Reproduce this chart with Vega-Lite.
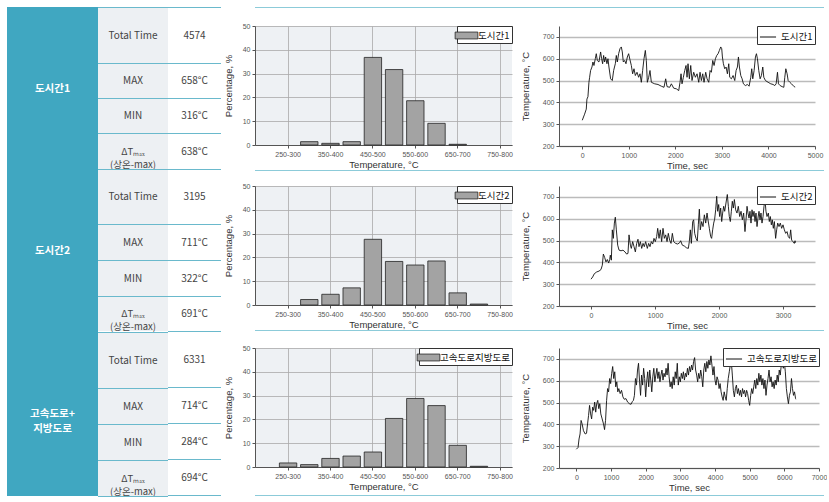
{
"$schema": "https://vega.github.io/schema/vega-lite/v6.json",
"padding": {"left": 7, "top": 7, "right": 0, "bottom": 0},
"background": "white",
"config": {
 "view": {"stroke": null},
 "font": "Liberation Sans",
 "axis": {"labelFont": "Liberation Sans", "labelFontSize": 7, "labelColor": "#555", "titleFont": "Liberation Sans", "titleFontSize": 9.5, "titleFontWeight": "normal", "titleColor": "#333", "domainColor": "#555", "tickColor": "#555", "tickSize": 3, "labelPadding": 2, "gridColor": "#aaa", "gridWidth": 0.8},
 "text": {"font": "Noto Sans CJK KR"},
 "title": {"anchor": "start"}
},
"resolve": {"scale": {"color": "independent"}, "legend": {"color": "independent"}},
"spacing": 2,
"hconcat": [
 {"hconcat": [
  {"vconcat": [
   {"width": 91, "height": 163, "view": {"fill": "#40a7c1"}, "data": {"values": [{"g": "도시간1"}]}, "mark": {"type": "text", "color": "white", "fontWeight": "bold", "fontSize": 10.5, "lineBreak": "\n", "lineHeight": 14}, "encoding": {"text": {"field": "g"}}},
   {"width": 91, "height": 162, "view": {"fill": "#40a7c1"}, "data": {"values": [{"g": "도시간2"}]}, "mark": {"type": "text", "color": "white", "fontWeight": "bold", "fontSize": 10.5, "lineBreak": "\n", "lineHeight": 14}, "encoding": {"text": {"field": "g"}}},
   {"width": 91, "height": 164, "view": {"fill": "#40a7c1"}, "data": {"values": [{"g": "고속도로+\n지방도로"}]}, "mark": {"type": "text", "color": "white", "fontWeight": "bold", "fontSize": 10.5, "lineBreak": "\n", "lineHeight": 15}, "encoding": {"text": {"field": "g"}}}
  ], "spacing": 0},
  {"vconcat": [
   {"width": 70, "height": 1, "view": {"fill": "#6ab9cc"}, "data": {"values": []}, "mark": "rect"},
   {"width": 70, "height": 55, "view": {"fill": "#edf0f3"}, "data": {"values": [{"t": "Total Time"}]}, "mark": {"type": "text", "color": "#444", "fontSize": 10}, "encoding": {"text": {"field": "t"}}},
   {"width": 70, "height": 1, "view": {"fill": "#6ab9cc"}, "data": {"values": []}, "mark": "rect"},
   {"width": 70, "height": 34, "view": {"fill": "#edf0f3"}, "data": {"values": [{"t": "MAX"}]}, "mark": {"type": "text", "color": "#444", "fontSize": 10}, "encoding": {"text": {"field": "t"}}},
   {"width": 70, "height": 1, "view": {"fill": "#6ab9cc"}, "data": {"values": []}, "mark": "rect"},
   {"width": 70, "height": 34, "view": {"fill": "#edf0f3"}, "data": {"values": [{"t": "MIN"}]}, "mark": {"type": "text", "color": "#444", "fontSize": 10}, "encoding": {"text": {"field": "t"}}},
   {"width": 70, "height": 1, "view": {"fill": "#6ab9cc"}, "data": {"values": []}, "mark": "rect"},
   {"width": 70, "height": 35, "view": {"fill": "#edf0f3"}, "data": {"values": [{"t": "ΔTₘₐₓ\n(상온-max)"}]}, "mark": {"type": "text", "color": "#444", "fontSize": 9.5, "lineBreak": "\n", "lineHeight": 13}, "encoding": {"text": {"field": "t"}}},
   {"width": 70, "height": 1, "view": {"fill": "#6ab9cc"}, "data": {"values": []}, "mark": "rect"},
   {"width": 70, "height": 54, "view": {"fill": "#edf0f3"}, "data": {"values": [{"t": "Total Time"}]}, "mark": {"type": "text", "color": "#444", "fontSize": 10}, "encoding": {"text": {"field": "t"}}},
   {"width": 70, "height": 1, "view": {"fill": "#6ab9cc"}, "data": {"values": []}, "mark": "rect"},
   {"width": 70, "height": 35, "view": {"fill": "#edf0f3"}, "data": {"values": [{"t": "MAX"}]}, "mark": {"type": "text", "color": "#444", "fontSize": 10}, "encoding": {"text": {"field": "t"}}},
   {"width": 70, "height": 1, "view": {"fill": "#6ab9cc"}, "data": {"values": []}, "mark": "rect"},
   {"width": 70, "height": 35, "view": {"fill": "#edf0f3"}, "data": {"values": [{"t": "MIN"}]}, "mark": {"type": "text", "color": "#444", "fontSize": 10}, "encoding": {"text": {"field": "t"}}},
   {"width": 70, "height": 1, "view": {"fill": "#6ab9cc"}, "data": {"values": []}, "mark": "rect"},
   {"width": 70, "height": 34, "view": {"fill": "#edf0f3"}, "data": {"values": [{"t": "ΔTₘₐₓ\n(상온-max)"}]}, "mark": {"type": "text", "color": "#444", "fontSize": 9.5, "lineBreak": "\n", "lineHeight": 13}, "encoding": {"text": {"field": "t"}}},
   {"width": 70, "height": 1, "view": {"fill": "#6ab9cc"}, "data": {"values": []}, "mark": "rect"},
   {"width": 70, "height": 55, "view": {"fill": "#edf0f3"}, "data": {"values": [{"t": "Total Time"}]}, "mark": {"type": "text", "color": "#444", "fontSize": 10}, "encoding": {"text": {"field": "t"}}},
   {"width": 70, "height": 1, "view": {"fill": "#6ab9cc"}, "data": {"values": []}, "mark": "rect"},
   {"width": 70, "height": 35, "view": {"fill": "#edf0f3"}, "data": {"values": [{"t": "MAX"}]}, "mark": {"type": "text", "color": "#444", "fontSize": 10}, "encoding": {"text": {"field": "t"}}},
   {"width": 70, "height": 1, "view": {"fill": "#6ab9cc"}, "data": {"values": []}, "mark": "rect"},
   {"width": 70, "height": 35, "view": {"fill": "#edf0f3"}, "data": {"values": [{"t": "MIN"}]}, "mark": {"type": "text", "color": "#444", "fontSize": 10}, "encoding": {"text": {"field": "t"}}},
   {"width": 70, "height": 1, "view": {"fill": "#6ab9cc"}, "data": {"values": []}, "mark": "rect"},
   {"width": 70, "height": 35, "view": {"fill": "#edf0f3"}, "data": {"values": [{"t": "ΔTₘₐₓ\n(상온-max)"}]}, "mark": {"type": "text", "color": "#444", "fontSize": 9.5, "lineBreak": "\n", "lineHeight": 13}, "encoding": {"text": {"field": "t"}}},
   {"width": 70, "height": 1, "view": {"fill": "#6ab9cc"}, "data": {"values": []}, "mark": "rect"}
  ], "spacing": 0},
  {"vconcat": [
   {"width": 53, "height": 1, "view": {"fill": "#6ab9cc"}, "data": {"values": []}, "mark": "rect"},
   {"width": 53, "height": 55, "view": {"fill": "#ffffff"}, "data": {"values": [{"t": "4574"}]}, "mark": {"type": "text", "color": "#444", "fontSize": 10}, "encoding": {"text": {"field": "t"}}},
   {"width": 53, "height": 1, "view": {"fill": "#6ab9cc"}, "data": {"values": []}, "mark": "rect"},
   {"width": 53, "height": 34, "view": {"fill": "#ffffff"}, "data": {"values": [{"t": "658°C"}]}, "mark": {"type": "text", "color": "#444", "fontSize": 10}, "encoding": {"text": {"field": "t"}}},
   {"width": 53, "height": 1, "view": {"fill": "#6ab9cc"}, "data": {"values": []}, "mark": "rect"},
   {"width": 53, "height": 34, "view": {"fill": "#ffffff"}, "data": {"values": [{"t": "316°C"}]}, "mark": {"type": "text", "color": "#444", "fontSize": 10}, "encoding": {"text": {"field": "t"}}},
   {"width": 53, "height": 1, "view": {"fill": "#6ab9cc"}, "data": {"values": []}, "mark": "rect"},
   {"width": 53, "height": 35, "view": {"fill": "#ffffff"}, "data": {"values": [{"t": "638°C"}]}, "mark": {"type": "text", "color": "#444", "fontSize": 10}, "encoding": {"text": {"field": "t"}}},
   {"width": 53, "height": 1, "view": {"fill": "#6ab9cc"}, "data": {"values": []}, "mark": "rect"},
   {"width": 53, "height": 54, "view": {"fill": "#ffffff"}, "data": {"values": [{"t": "3195"}]}, "mark": {"type": "text", "color": "#444", "fontSize": 10}, "encoding": {"text": {"field": "t"}}},
   {"width": 53, "height": 1, "view": {"fill": "#6ab9cc"}, "data": {"values": []}, "mark": "rect"},
   {"width": 53, "height": 35, "view": {"fill": "#ffffff"}, "data": {"values": [{"t": "711°C"}]}, "mark": {"type": "text", "color": "#444", "fontSize": 10}, "encoding": {"text": {"field": "t"}}},
   {"width": 53, "height": 1, "view": {"fill": "#6ab9cc"}, "data": {"values": []}, "mark": "rect"},
   {"width": 53, "height": 35, "view": {"fill": "#ffffff"}, "data": {"values": [{"t": "322°C"}]}, "mark": {"type": "text", "color": "#444", "fontSize": 10}, "encoding": {"text": {"field": "t"}}},
   {"width": 53, "height": 1, "view": {"fill": "#6ab9cc"}, "data": {"values": []}, "mark": "rect"},
   {"width": 53, "height": 34, "view": {"fill": "#ffffff"}, "data": {"values": [{"t": "691°C"}]}, "mark": {"type": "text", "color": "#444", "fontSize": 10}, "encoding": {"text": {"field": "t"}}},
   {"width": 53, "height": 1, "view": {"fill": "#6ab9cc"}, "data": {"values": []}, "mark": "rect"},
   {"width": 53, "height": 55, "view": {"fill": "#ffffff"}, "data": {"values": [{"t": "6331"}]}, "mark": {"type": "text", "color": "#444", "fontSize": 10}, "encoding": {"text": {"field": "t"}}},
   {"width": 53, "height": 1, "view": {"fill": "#6ab9cc"}, "data": {"values": []}, "mark": "rect"},
   {"width": 53, "height": 35, "view": {"fill": "#ffffff"}, "data": {"values": [{"t": "714°C"}]}, "mark": {"type": "text", "color": "#444", "fontSize": 10}, "encoding": {"text": {"field": "t"}}},
   {"width": 53, "height": 1, "view": {"fill": "#6ab9cc"}, "data": {"values": []}, "mark": "rect"},
   {"width": 53, "height": 35, "view": {"fill": "#ffffff"}, "data": {"values": [{"t": "284°C"}]}, "mark": {"type": "text", "color": "#444", "fontSize": 10}, "encoding": {"text": {"field": "t"}}},
   {"width": 53, "height": 1, "view": {"fill": "#6ab9cc"}, "data": {"values": []}, "mark": "rect"},
   {"width": 53, "height": 35, "view": {"fill": "#ffffff"}, "data": {"values": [{"t": "694°C"}]}, "mark": {"type": "text", "color": "#444", "fontSize": 10}, "encoding": {"text": {"field": "t"}}},
   {"width": 53, "height": 1, "view": {"fill": "#6ab9cc"}, "data": {"values": []}, "mark": "rect"}
  ], "spacing": 0}
 ], "spacing": 0},
 {"vconcat": [
  {"width": 569, "height": 1, "view": {"fill": "#8ccbd9"}, "data": {"values": []}, "mark": "rect"},
  {"width": 10, "height": 14, "data": {"values": []}, "mark": "rect"},
  {"hconcat": [
   {"width": 257, "height": 119, "view": {"fill": "#eef1f4"},
    "data": {"values": [{"b":"300-350","p":1.4},{"b":"350-400","p":0.7},{"b":"400-450","p":1.4},{"b":"450-500","p":36.8},{"b":"500-550","p":31.7},{"b":"550-600","p":18.6},{"b":"600-650","p":9.1},{"b":"650-700","p":0.3}]},
    "mark": {"type": "bar", "stroke": "#222", "strokeWidth": 0.8},
    "encoding": {
     "x": {"field": "b", "type": "ordinal", "scale": {"domain": ["200-250","250-300","300-350","350-400","400-450","450-500","500-550","550-600","600-650","650-700","700-750","750-800"], "paddingInner": 0.18, "paddingOuter": 0.15}, "axis": {"values": ["250-300","350-400","450-500","550-600","650-700","750-800"], "labelAngle": 0, "title": "Temperature, °C", "grid": true, "bandPosition": 0.5, "titlePadding": 2}},
     "y": {"field": "p", "type": "quantitative", "scale": {"domain": [0, 50]}, "axis": {"values": [0,10,20,30,40,50], "title": "Percentage, %", "grid": true, "titlePadding": 9}},
     "color": {"datum": "도시간1", "type": "nominal", "scale": {"range": ["#a3a3a3"]}, "legend": {"title": null, "orient": "top-right", "offset": 0, "padding": 2, "strokeColor": "#333", "fillColor": "#fff", "symbolType": "M-1.65,-0.5H1.65V0.5H-1.65Z", "symbolSize": 190, "symbolStrokeColor": "#222", "symbolStrokeWidth": 0.8, "labelFont": "Noto Sans CJK KR", "labelFontSize": 9.5, "labelColor": "#111", "labelOffset": 4}}
    }},
   {"width": 256, "height": 120,
    "data": {"values": [{"t":0,"v":318},{"t":50,"v":346},{"t":86,"v":369},{"t":100,"v":415},{"t":122,"v":426},{"t":143,"v":492},{"t":158,"v":515},{"t":179,"v":546},{"t":208,"v":562},{"t":229,"v":585},{"t":251,"v":569},{"t":280,"v":600},{"t":301,"v":623},{"t":323,"v":592},{"t":358,"v":585},{"t":394,"v":631},{"t":416,"v":600},{"t":437,"v":577},{"t":459,"v":615},{"t":480,"v":585},{"t":502,"v":608},{"t":530,"v":577},{"t":552,"v":600},{"t":573,"v":562},{"t":609,"v":508},{"t":645,"v":500},{"t":674,"v":546},{"t":710,"v":577},{"t":731,"v":615},{"t":753,"v":585},{"t":781,"v":623},{"t":810,"v":646},{"t":839,"v":654},{"t":860,"v":631},{"t":882,"v":585},{"t":910,"v":592},{"t":939,"v":577},{"t":968,"v":608},{"t":996,"v":623},{"t":1025,"v":595},{"t":1054,"v":569},{"t":1082,"v":531},{"t":1111,"v":554},{"t":1140,"v":523},{"t":1176,"v":538},{"t":1211,"v":515},{"t":1240,"v":531},{"t":1269,"v":492},{"t":1297,"v":546},{"t":1326,"v":600},{"t":1355,"v":638},{"t":1376,"v":592},{"t":1398,"v":492},{"t":1427,"v":515},{"t":1455,"v":546},{"t":1484,"v":492},{"t":1556,"v":485},{"t":1627,"v":482},{"t":1699,"v":474},{"t":1756,"v":469},{"t":1792,"v":508},{"t":1821,"v":472},{"t":1878,"v":469},{"t":1914,"v":485},{"t":1964,"v":465},{"t":2022,"v":462},{"t":2072,"v":454},{"t":2100,"v":492},{"t":2122,"v":531},{"t":2143,"v":485},{"t":2172,"v":515},{"t":2201,"v":546},{"t":2229,"v":569},{"t":2251,"v":515},{"t":2272,"v":577},{"t":2301,"v":508},{"t":2330,"v":569},{"t":2358,"v":500},{"t":2394,"v":538},{"t":2430,"v":515},{"t":2466,"v":531},{"t":2502,"v":492},{"t":2530,"v":538},{"t":2559,"v":500},{"t":2588,"v":531},{"t":2616,"v":492},{"t":2652,"v":538},{"t":2681,"v":508},{"t":2717,"v":492},{"t":2746,"v":546},{"t":2774,"v":538},{"t":2803,"v":592},{"t":2832,"v":569},{"t":2860,"v":600},{"t":2889,"v":615},{"t":2918,"v":623},{"t":2946,"v":638},{"t":2975,"v":654},{"t":2996,"v":646},{"t":3011,"v":608},{"t":3032,"v":577},{"t":3061,"v":554},{"t":3090,"v":562},{"t":3118,"v":531},{"t":3147,"v":577},{"t":3168,"v":515},{"t":3204,"v":508},{"t":3240,"v":523},{"t":3276,"v":500},{"t":3305,"v":546},{"t":3333,"v":562},{"t":3355,"v":608},{"t":3376,"v":562},{"t":3405,"v":523},{"t":3434,"v":508},{"t":3462,"v":485},{"t":3505,"v":477},{"t":3548,"v":482},{"t":3584,"v":474},{"t":3620,"v":515},{"t":3641,"v":554},{"t":3663,"v":508},{"t":3692,"v":546},{"t":3720,"v":608},{"t":3742,"v":623},{"t":3763,"v":600},{"t":3792,"v":546},{"t":3821,"v":508},{"t":3849,"v":523},{"t":3878,"v":562},{"t":3900,"v":515},{"t":3935,"v":500},{"t":3993,"v":492},{"t":4050,"v":485},{"t":4100,"v":482},{"t":4136,"v":477},{"t":4165,"v":485},{"t":4194,"v":538},{"t":4215,"v":485},{"t":4251,"v":477},{"t":4294,"v":472},{"t":4330,"v":469},{"t":4351,"v":515},{"t":4373,"v":554},{"t":4401,"v":531},{"t":4423,"v":500},{"t":4459,"v":492},{"t":4495,"v":485},{"t":4552,"v":472},{"t":4574,"v":470}]},
    "mark": {"type": "line", "strokeWidth": 0.9},
    "encoding": {
     "x": {"field": "t", "type": "quantitative", "scale": {"domain": [-500, 5000], "nice": false}, "axis": {"values": [0,1000,2000,3000,4000,5000], "format": "d", "title": "Time, sec", "grid": false, "titlePadding": 2, "labelFlush": false}},
     "y": {"field": "v", "type": "quantitative", "scale": {"domain": [200, 750], "nice": false, "zero": false}, "axis": {"values": [200,300,400,500,600,700], "title": "Temperature, °C", "grid": true, "gridColor": "#bbb", "gridWidth": 1.3, "titlePadding": 12}},
     "color": {"datum": "도시간1", "type": "nominal", "scale": {"range": ["#111"]}, "legend": {"title": null, "orient": "top-right", "offset": 0, "padding": 2, "strokeColor": "#333", "fillColor": "#fff", "symbolType": "stroke", "symbolSize": 260, "symbolStrokeWidth": 1, "labelFont": "Noto Sans CJK KR", "labelFontSize": 9.5, "labelColor": "#111", "labelOffset": 4}}
    }}
  ], "spacing": 7, "resolve": {"scale": {"color": "independent"}, "legend": {"color": "independent"}}},
  {"width": 569, "height": 1, "view": {"fill": "#8ccbd9"}, "data": {"values": []}, "mark": "rect"},
  {"width": 10, "height": 11, "data": {"values": []}, "mark": "rect"},
  {"hconcat": [
   {"width": 257, "height": 119, "view": {"fill": "#eef1f4"},
    "data": {"values": [{"b":"300-350","p":2.3},{"b":"350-400","p":4.5},{"b":"400-450","p":7.2},{"b":"450-500","p":27.6},{"b":"500-550","p":18.3},{"b":"550-600","p":16.8},{"b":"600-650","p":18.5},{"b":"650-700","p":5.1},{"b":"700-750","p":0.4}]},
    "mark": {"type": "bar", "stroke": "#222", "strokeWidth": 0.8},
    "encoding": {
     "x": {"field": "b", "type": "ordinal", "scale": {"domain": ["200-250","250-300","300-350","350-400","400-450","450-500","500-550","550-600","600-650","650-700","700-750","750-800"], "paddingInner": 0.18, "paddingOuter": 0.15}, "axis": {"values": ["250-300","350-400","450-500","550-600","650-700","750-800"], "labelAngle": 0, "title": "Temperature, °C", "grid": true, "bandPosition": 0.5, "titlePadding": 2}},
     "y": {"field": "p", "type": "quantitative", "scale": {"domain": [0, 50]}, "axis": {"values": [0,10,20,30,40,50], "title": "Percentage, %", "grid": true, "titlePadding": 9}},
     "color": {"datum": "도시간2", "type": "nominal", "scale": {"range": ["#a3a3a3"]}, "legend": {"title": null, "orient": "top-right", "offset": 0, "padding": 2, "strokeColor": "#333", "fillColor": "#fff", "symbolType": "M-1.65,-0.5H1.65V0.5H-1.65Z", "symbolSize": 190, "symbolStrokeColor": "#222", "symbolStrokeWidth": 0.8, "labelFont": "Noto Sans CJK KR", "labelFontSize": 9.5, "labelColor": "#111", "labelOffset": 4}}
    }},
   {"width": 256, "height": 120,
    "data": {"values": [{"t":0,"v":323},{"t":26,"v":333},{"t":52,"v":348},{"t":89,"v":356},{"t":125,"v":360},{"t":156,"v":367},{"t":177,"v":387},{"t":193,"v":438},{"t":214,"v":422},{"t":234,"v":402},{"t":255,"v":413},{"t":276,"v":397},{"t":292,"v":413},{"t":302,"v":433},{"t":318,"v":410},{"t":333,"v":549},{"t":349,"v":510},{"t":365,"v":580},{"t":380,"v":607},{"t":396,"v":549},{"t":417,"v":479},{"t":438,"v":456},{"t":469,"v":453},{"t":500,"v":456},{"t":531,"v":448},{"t":557,"v":438},{"t":578,"v":441},{"t":594,"v":526},{"t":615,"v":479},{"t":630,"v":464},{"t":651,"v":495},{"t":672,"v":472},{"t":693,"v":448},{"t":714,"v":487},{"t":734,"v":506},{"t":750,"v":472},{"t":771,"v":495},{"t":792,"v":464},{"t":813,"v":487},{"t":833,"v":472},{"t":854,"v":495},{"t":880,"v":464},{"t":901,"v":487},{"t":922,"v":472},{"t":943,"v":495},{"t":964,"v":484},{"t":984,"v":510},{"t":1005,"v":495},{"t":1026,"v":518},{"t":1042,"v":556},{"t":1063,"v":510},{"t":1083,"v":549},{"t":1104,"v":495},{"t":1125,"v":556},{"t":1146,"v":510},{"t":1167,"v":526},{"t":1188,"v":495},{"t":1208,"v":533},{"t":1229,"v":502},{"t":1250,"v":487},{"t":1271,"v":533},{"t":1292,"v":495},{"t":1323,"v":487},{"t":1354,"v":484},{"t":1385,"v":490},{"t":1401,"v":499},{"t":1427,"v":479},{"t":1458,"v":475},{"t":1490,"v":467},{"t":1521,"v":464},{"t":1536,"v":495},{"t":1552,"v":549},{"t":1568,"v":487},{"t":1589,"v":587},{"t":1604,"v":595},{"t":1620,"v":533},{"t":1641,"v":510},{"t":1661,"v":498},{"t":1677,"v":572},{"t":1693,"v":644},{"t":1708,"v":549},{"t":1729,"v":587},{"t":1750,"v":564},{"t":1771,"v":618},{"t":1792,"v":580},{"t":1813,"v":626},{"t":1828,"v":595},{"t":1849,"v":556},{"t":1870,"v":518},{"t":1885,"v":510},{"t":1901,"v":549},{"t":1917,"v":580},{"t":1932,"v":598},{"t":1948,"v":641},{"t":1964,"v":703},{"t":1979,"v":634},{"t":1995,"v":665},{"t":2010,"v":610},{"t":2026,"v":649},{"t":2042,"v":587},{"t":2057,"v":626},{"t":2073,"v":657},{"t":2089,"v":634},{"t":2109,"v":672},{"t":2130,"v":711},{"t":2146,"v":657},{"t":2161,"v":610},{"t":2177,"v":587},{"t":2193,"v":634},{"t":2208,"v":680},{"t":2224,"v":649},{"t":2240,"v":688},{"t":2260,"v":641},{"t":2281,"v":626},{"t":2302,"v":657},{"t":2323,"v":610},{"t":2344,"v":634},{"t":2365,"v":595},{"t":2385,"v":626},{"t":2406,"v":541},{"t":2422,"v":595},{"t":2438,"v":657},{"t":2453,"v":626},{"t":2469,"v":603},{"t":2484,"v":634},{"t":2500,"v":580},{"t":2516,"v":641},{"t":2531,"v":610},{"t":2547,"v":634},{"t":2563,"v":587},{"t":2578,"v":626},{"t":2594,"v":564},{"t":2609,"v":603},{"t":2625,"v":634},{"t":2641,"v":595},{"t":2656,"v":626},{"t":2672,"v":580},{"t":2688,"v":610},{"t":2703,"v":657},{"t":2719,"v":685},{"t":2734,"v":634},{"t":2750,"v":610},{"t":2771,"v":626},{"t":2786,"v":587},{"t":2802,"v":610},{"t":2818,"v":572},{"t":2833,"v":595},{"t":2849,"v":556},{"t":2865,"v":587},{"t":2885,"v":510},{"t":2901,"v":549},{"t":2917,"v":580},{"t":2938,"v":564},{"t":2958,"v":580},{"t":2979,"v":556},{"t":3000,"v":572},{"t":3021,"v":549},{"t":3042,"v":533},{"t":3063,"v":541},{"t":3083,"v":518},{"t":3104,"v":510},{"t":3120,"v":549},{"t":3135,"v":502},{"t":3156,"v":495},{"t":3177,"v":487},{"t":3188,"v":499},{"t":3195,"v":490}]},
    "mark": {"type": "line", "strokeWidth": 0.9},
    "encoding": {
     "x": {"field": "t", "type": "quantitative", "scale": {"domain": [-500, 3500], "nice": false}, "axis": {"values": [0,1000,2000,3000], "format": "d", "title": "Time, sec", "grid": false, "titlePadding": 2, "labelFlush": false}},
     "y": {"field": "v", "type": "quantitative", "scale": {"domain": [200, 750], "nice": false, "zero": false}, "axis": {"values": [200,300,400,500,600,700], "title": "Temperature, °C", "grid": true, "gridColor": "#bbb", "gridWidth": 1.3, "titlePadding": 12}},
     "color": {"datum": "도시간2", "type": "nominal", "scale": {"range": ["#111"]}, "legend": {"title": null, "orient": "top-right", "offset": 0, "padding": 2, "strokeColor": "#333", "fillColor": "#fff", "symbolType": "stroke", "symbolSize": 260, "symbolStrokeWidth": 1, "labelFont": "Noto Sans CJK KR", "labelFontSize": 9.5, "labelColor": "#111", "labelOffset": 4}}
    }}
  ], "spacing": 7, "resolve": {"scale": {"color": "independent"}, "legend": {"color": "independent"}}},
  {"width": 569, "height": 1, "view": {"fill": "#8ccbd9"}, "data": {"values": []}, "mark": "rect"},
  {"width": 10, "height": 13, "data": {"values": []}, "mark": "rect"},
  {"hconcat": [
   {"width": 257, "height": 119, "view": {"fill": "#eef1f4"},
    "data": {"values": [{"b":"250-300","p":1.7},{"b":"300-350","p":1.0},{"b":"350-400","p":3.6},{"b":"400-450","p":4.6},{"b":"450-500","p":6.3},{"b":"500-550","p":20.4},{"b":"550-600","p":28.8},{"b":"600-650","p":25.8},{"b":"650-700","p":9.1},{"b":"700-750","p":0.3}]},
    "mark": {"type": "bar", "stroke": "#222", "strokeWidth": 0.8},
    "encoding": {
     "x": {"field": "b", "type": "ordinal", "scale": {"domain": ["200-250","250-300","300-350","350-400","400-450","450-500","500-550","550-600","600-650","650-700","700-750","750-800"], "paddingInner": 0.18, "paddingOuter": 0.15}, "axis": {"values": ["250-300","350-400","450-500","550-600","650-700","750-800"], "labelAngle": 0, "title": "Temperature, °C", "grid": true, "bandPosition": 0.5, "titlePadding": 2}},
     "y": {"field": "p", "type": "quantitative", "scale": {"domain": [0, 50]}, "axis": {"values": [0,10,20,30,40,50], "title": "Percentage, %", "grid": true, "titlePadding": 9}},
     "color": {"datum": "고속도로지방도로", "type": "nominal", "scale": {"range": ["#a3a3a3"]}, "legend": {"title": null, "orient": "top-right", "offset": 0, "padding": 2, "strokeColor": "#333", "fillColor": "#fff", "symbolType": "M-1.65,-0.5H1.65V0.5H-1.65Z", "symbolSize": 190, "symbolStrokeColor": "#222", "symbolStrokeWidth": 0.8, "labelFont": "Noto Sans CJK KR", "labelFontSize": 9.5, "labelColor": "#111", "labelOffset": 4}}
    }},
   {"width": 260, "height": 120,
    "data": {"values": [{"t":0,"v":286},{"t":49,"v":294},{"t":78,"v":333},{"t":108,"v":356},{"t":137,"v":418},{"t":167,"v":402},{"t":206,"v":371},{"t":255,"v":356},{"t":294,"v":359},{"t":324,"v":402},{"t":353,"v":441},{"t":382,"v":487},{"t":412,"v":448},{"t":441,"v":425},{"t":471,"v":479},{"t":500,"v":464},{"t":529,"v":502},{"t":559,"v":456},{"t":588,"v":495},{"t":618,"v":510},{"t":647,"v":472},{"t":676,"v":495},{"t":706,"v":448},{"t":745,"v":425},{"t":784,"v":402},{"t":814,"v":376},{"t":843,"v":418},{"t":873,"v":510},{"t":902,"v":564},{"t":931,"v":549},{"t":961,"v":610},{"t":990,"v":587},{"t":1020,"v":634},{"t":1049,"v":665},{"t":1078,"v":610},{"t":1108,"v":641},{"t":1137,"v":572},{"t":1167,"v":595},{"t":1196,"v":549},{"t":1225,"v":564},{"t":1265,"v":541},{"t":1304,"v":556},{"t":1343,"v":526},{"t":1382,"v":515},{"t":1431,"v":518},{"t":1480,"v":502},{"t":1529,"v":495},{"t":1578,"v":492},{"t":1618,"v":505},{"t":1647,"v":510},{"t":1676,"v":533},{"t":1706,"v":610},{"t":1735,"v":580},{"t":1765,"v":649},{"t":1794,"v":680},{"t":1824,"v":595},{"t":1853,"v":533},{"t":1882,"v":626},{"t":1912,"v":580},{"t":1941,"v":657},{"t":1971,"v":610},{"t":2000,"v":526},{"t":2029,"v":595},{"t":2059,"v":641},{"t":2088,"v":572},{"t":2118,"v":649},{"t":2147,"v":603},{"t":2176,"v":549},{"t":2206,"v":618},{"t":2235,"v":657},{"t":2265,"v":595},{"t":2294,"v":626},{"t":2324,"v":657},{"t":2353,"v":610},{"t":2382,"v":641},{"t":2412,"v":595},{"t":2441,"v":626},{"t":2471,"v":649},{"t":2500,"v":603},{"t":2529,"v":634},{"t":2559,"v":618},{"t":2588,"v":657},{"t":2618,"v":626},{"t":2647,"v":680},{"t":2676,"v":618},{"t":2706,"v":572},{"t":2735,"v":595},{"t":2765,"v":564},{"t":2794,"v":618},{"t":2824,"v":580},{"t":2853,"v":641},{"t":2882,"v":610},{"t":2912,"v":680},{"t":2941,"v":580},{"t":2971,"v":618},{"t":3000,"v":595},{"t":3029,"v":634},{"t":3059,"v":610},{"t":3088,"v":641},{"t":3118,"v":603},{"t":3147,"v":634},{"t":3176,"v":618},{"t":3206,"v":657},{"t":3235,"v":626},{"t":3265,"v":665},{"t":3294,"v":641},{"t":3324,"v":672},{"t":3353,"v":649},{"t":3382,"v":688},{"t":3412,"v":706},{"t":3441,"v":649},{"t":3471,"v":626},{"t":3500,"v":595},{"t":3529,"v":634},{"t":3559,"v":610},{"t":3588,"v":649},{"t":3618,"v":618},{"t":3647,"v":572},{"t":3676,"v":649},{"t":3706,"v":680},{"t":3735,"v":641},{"t":3765,"v":688},{"t":3794,"v":657},{"t":3824,"v":695},{"t":3853,"v":672},{"t":3882,"v":714},{"t":3912,"v":672},{"t":3941,"v":626},{"t":3971,"v":665},{"t":4000,"v":603},{"t":4029,"v":580},{"t":4059,"v":618},{"t":4088,"v":603},{"t":4118,"v":564},{"t":4147,"v":587},{"t":4176,"v":549},{"t":4206,"v":526},{"t":4235,"v":510},{"t":4265,"v":549},{"t":4294,"v":526},{"t":4324,"v":510},{"t":4353,"v":564},{"t":4382,"v":610},{"t":4412,"v":641},{"t":4441,"v":672},{"t":4471,"v":688},{"t":4500,"v":626},{"t":4529,"v":556},{"t":4559,"v":526},{"t":4588,"v":564},{"t":4618,"v":580},{"t":4647,"v":541},{"t":4676,"v":564},{"t":4706,"v":533},{"t":4735,"v":556},{"t":4765,"v":526},{"t":4794,"v":564},{"t":4824,"v":541},{"t":4853,"v":556},{"t":4882,"v":526},{"t":4912,"v":556},{"t":4941,"v":541},{"t":4971,"v":510},{"t":5000,"v":487},{"t":5029,"v":533},{"t":5059,"v":564},{"t":5088,"v":541},{"t":5118,"v":572},{"t":5147,"v":603},{"t":5176,"v":564},{"t":5206,"v":610},{"t":5235,"v":580},{"t":5265,"v":634},{"t":5294,"v":595},{"t":5324,"v":626},{"t":5353,"v":580},{"t":5382,"v":610},{"t":5412,"v":564},{"t":5441,"v":603},{"t":5471,"v":533},{"t":5500,"v":580},{"t":5529,"v":610},{"t":5559,"v":649},{"t":5588,"v":595},{"t":5618,"v":618},{"t":5647,"v":572},{"t":5676,"v":595},{"t":5706,"v":564},{"t":5735,"v":603},{"t":5765,"v":580},{"t":5794,"v":626},{"t":5824,"v":595},{"t":5853,"v":649},{"t":5882,"v":626},{"t":5912,"v":672},{"t":5941,"v":688},{"t":5971,"v":657},{"t":6000,"v":685},{"t":6029,"v":641},{"t":6059,"v":564},{"t":6088,"v":526},{"t":6118,"v":495},{"t":6147,"v":533},{"t":6176,"v":549},{"t":6206,"v":610},{"t":6235,"v":564},{"t":6265,"v":533},{"t":6294,"v":549},{"t":6324,"v":518},{"t":6331,"v":515}]},
    "mark": {"type": "line", "strokeWidth": 0.9},
    "encoding": {
     "x": {"field": "t", "type": "quantitative", "scale": {"domain": [-500, 7000], "nice": false}, "axis": {"values": [0,1000,2000,3000,4000,5000,6000,7000], "format": "d", "title": "Time, sec", "grid": false, "titlePadding": 2, "labelFlush": false}},
     "y": {"field": "v", "type": "quantitative", "scale": {"domain": [200, 750], "nice": false, "zero": false}, "axis": {"values": [200,300,400,500,600,700], "title": "Temperature, °C", "grid": true, "gridColor": "#bbb", "gridWidth": 1.3, "titlePadding": 12}},
     "color": {"datum": "고속도로지방도로", "type": "nominal", "scale": {"range": ["#111"]}, "legend": {"title": null, "orient": "top-right", "offset": 0, "padding": 2, "strokeColor": "#333", "fillColor": "#fff", "symbolType": "stroke", "symbolSize": 260, "symbolStrokeWidth": 1, "labelFont": "Noto Sans CJK KR", "labelFontSize": 9.5, "labelColor": "#111", "labelOffset": 4}}
    }}
  ], "spacing": 7, "resolve": {"scale": {"color": "independent"}, "legend": {"color": "independent"}}},
  {"width": 10, "height": 3, "data": {"values": []}, "mark": "rect"},
  {"width": 569, "height": 1, "view": {"fill": "#8ccbd9"}, "data": {"values": []}, "mark": "rect"}
 ], "spacing": 0, "resolve": {"scale": {"color": "independent"}, "legend": {"color": "independent"}}}
]
}
